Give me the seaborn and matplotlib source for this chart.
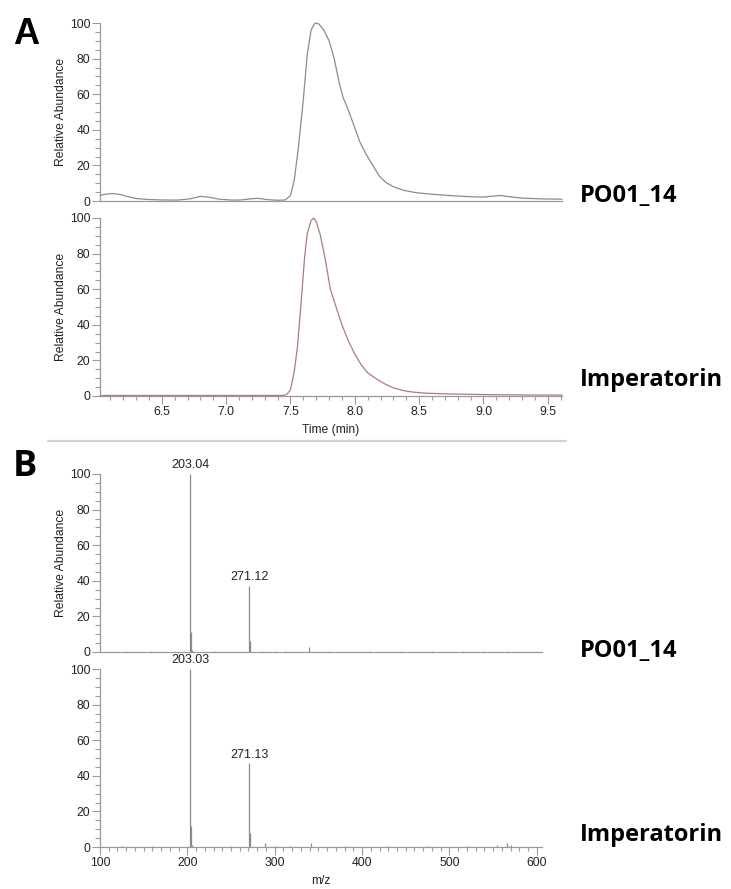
import numpy as np
import pandas as pd
import matplotlib
matplotlib.use("Agg")
import matplotlib.pyplot as plt
import seaborn as sns
from matplotlib.ticker import MultipleLocator

sns.set_theme(style="ticks")
plt.rcParams['font.family'] = ['Liberation Sans', 'DejaVu Sans']

# ---------------- data ----------------
sample_name = "PO01_14"
standard_name = "Imperatorin"

time_sample = [6.02, 6.06, 6.12, 6.18, 6.24, 6.30, 6.38, 6.50, 6.62, 6.72, 6.80, 6.86,
               6.95, 7.05, 7.12, 7.20, 7.25, 7.32, 7.40, 7.46, 7.50, 7.53, 7.56, 7.60,
               7.63, 7.66, 7.69, 7.72, 7.76, 7.80, 7.84, 7.88, 7.91, 7.95, 7.99, 8.04,
               8.09, 8.14, 8.19, 8.24, 8.30, 8.38, 8.48, 8.60, 8.75, 8.90, 9.00, 9.08,
               9.13, 9.20, 9.30, 9.45, 9.61]
abund_sample = [3.2, 3.8, 4.2, 3.6, 2.4, 1.4, 0.9, 0.6, 0.5, 1.2, 2.6, 2.2,
                1.0, 0.5, 0.6, 1.3, 1.5, 0.8, 0.4, 0.6, 3.0, 12, 29, 57,
                82, 96, 100, 99.5, 96, 90, 80, 66, 58, 51, 43, 33,
                26, 20, 14, 10.5, 8, 6, 4.6, 3.8, 3.0, 2.4, 2.2, 2.8,
                3.1, 2.4, 1.6, 1.2, 1.0]

time_std = [6.02, 7.44, 7.47, 7.50, 7.53, 7.555, 7.58, 7.61, 7.63, 7.66, 7.68, 7.70,
            7.73, 7.77, 7.81, 7.85, 7.90, 7.95, 8.00, 8.05, 8.10, 8.17, 8.24, 8.30,
            8.38, 8.45, 8.55, 8.70, 9.00, 9.30, 9.61]
abund_std = [0.3, 0.3, 0.8, 3.4, 14, 28, 50, 78, 91, 98.5, 100, 98,
             91, 77, 60, 51, 40, 31, 23.5, 17.5, 13, 9.5, 6.5, 4.6,
             3.0, 2.2, 1.6, 1.2, 0.8, 0.6, 0.5]

mz_sample = [130, 158, 203.04, 204.04, 205, 230, 271.12, 272.12, 286, 300, 312,
             339.1, 362, 409, 445, 480, 515, 540, 567]
int_sample = [0.3, 0.4, 100, 11.5, 1.0, 0.3, 37, 6, 0.8, 0.4, 0.5,
              3.0, 0.4, 0.5, 0.3, 0.3, 0.4, 0.5, 0.6]

mz_std = [125, 160, 203.03, 204.03, 205, 250, 271.13, 272.13, 289, 300, 318,
          341, 380, 430, 475, 520, 555, 566, 570]
int_std = [0.3, 0.4, 100, 12, 1.2, 0.4, 47, 8, 2.3, 0.6, 0.8,
           2.0, 0.5, 0.6, 0.7, 0.5, 0.9, 2.5, 1.0]

label_mz_sample = [203.04, 271.12]
label_int_sample = [100, 37]
label_text_sample = ["203.04", "271.12"]
label_mz_std = [203.03, 271.13]
label_int_std = [100, 47]
label_text_std = ["203.03", "271.13"]

# ---------------- figure ----------------
W, H = 731, 889
fig = plt.figure(figsize=(W / 100, H / 100), dpi=100)


def fr(x0, x1, y0, y1):
    return [x0 / W, 1 - y1 / H, (x1 - x0) / W, (y1 - y0) / H]


axA1 = fig.add_axes(fr(100, 562, 23, 201))
axA2 = fig.add_axes(fr(100, 562, 218, 396))
axB1 = fig.add_axes(fr(100, 542, 474, 652))
axB2 = fig.add_axes(fr(100, 542, 669, 847))

spine_c = "#9a9a9a"
txt_c = "#222222"
fs = 8.7


def style(ax, show_x):
    for s in ["top", "right"]:
        ax.spines[s].set_visible(False)
    for s in ["left", "bottom"]:
        ax.spines[s].set_color(spine_c)
        ax.spines[s].set_linewidth(0.9)
    ax.set_ylim(0, 100)
    ax.yaxis.set_major_locator(MultipleLocator(20))
    ax.yaxis.set_minor_locator(MultipleLocator(5))
    ax.tick_params(axis="y", which="major", length=6, width=0.8, color=spine_c,
                   labelsize=fs, labelcolor=txt_c, pad=1)
    ax.tick_params(axis="y", which="minor", length=3.5, width=0.8, color=spine_c)
    if show_x:
        ax.tick_params(axis="x", which="major", length=5.5, width=0.8, color=spine_c,
                       labelsize=fs, labelcolor=txt_c, pad=2)
        ax.tick_params(axis="x", which="minor", length=3, width=0.8, color=spine_c)
    else:
        ax.tick_params(axis="x", which="both", length=0, labelbottom=False)
    ax.set_facecolor("white")


# Panel A chromatograms
df_s = pd.DataFrame({"Time (min)": time_sample, "Relative Abundance": abund_sample})
df_t = pd.DataFrame({"Time (min)": time_std, "Relative Abundance": abund_std})
sns.lineplot(data=df_s, x="Time (min)", y="Relative Abundance", ax=axA1,
             color="#8c8c8c", lw=0.9, sort=True)
sns.lineplot(data=df_t, x="Time (min)", y="Relative Abundance", ax=axA2,
             color="#b07a7a", lw=0.9, sort=True)
for ax in (axA1, axA2):
    ax.set_xlim(6.02, 9.61)
    ax.xaxis.set_major_locator(MultipleLocator(0.5))
    ax.xaxis.set_minor_locator(MultipleLocator(0.1))
    for l in ax.lines:
        l.set_clip_on(False)
style(axA1, False)
style(axA2, True)
axA1.set_xlabel("")
axA2.set_xlabel("Time (min)", fontsize=fs, color=txt_c)
axA2.xaxis.set_label_coords(0.5, -28 / 178)
for ax in (axA1, axA2):
    ax.set_ylabel("Relative Abundance", fontsize=fs, color=txt_c)
    ax.yaxis.set_label_coords(-33 / 462, 0.5)

# Panel B spectra
for ax, mz, it in ((axB1, mz_sample, int_sample), (axB2, mz_std, int_std)):
    ax.vlines(mz, 0, it, color="#8a8a8a", lw=0.9)
    ax.set_xlim(100, 606)
    ax.xaxis.set_major_locator(MultipleLocator(100))
    ax.xaxis.set_minor_locator(MultipleLocator(10))
style(axB1, False)
style(axB2, True)
axB1.set_ylabel("Relative Abundance", fontsize=fs, color=txt_c)
axB1.yaxis.set_label_coords(-33 / 442, 0.5)
axB2.set_xlabel("m/z", fontsize=fs, color=txt_c)
axB2.xaxis.set_label_coords(0.5, -28 / 178)

for ax, xs, ys, ts in ((axB1, label_mz_sample, label_int_sample, label_text_sample),
                       (axB2, label_mz_std, label_int_std, label_text_std)):
    for x, y, t in zip(xs, ys, ts):
        ax.annotate(t, (x, y), xytext=(0, 2), textcoords="offset points",
                    ha="center", va="bottom", fontsize=9, color=txt_c,
                    annotation_clip=False)

# separator line
fig.add_artist(plt.Line2D([48 / W, 566 / W], [1 - 441 / H, 1 - 441 / H],
                          color="#d2d2d2", lw=1.6))

# panel letters
fig.text(13 / W, 1 - 44 / H, "A", fontsize=26, fontweight="bold",
         family=["Liberation Sans"], color="black", ha="left", va="baseline")
fig.text(13 / W, 1 - 476 / H, "B", fontsize=26, fontweight="bold",
         family=["Open Sans"], color="black", ha="left", va="baseline")

# sample labels
lab_kw = dict(fontsize=17, fontweight="bold", family=["Open Sans"], color="black",
              ha="left", va="baseline")
fig.text(580 / W, 1 - 202 / H, sample_name, **lab_kw)
fig.text(580 / W, 1 - 386 / H, standard_name, **lab_kw)
fig.text(580 / W, 1 - 657 / H, sample_name, **lab_kw)
fig.text(580 / W, 1 - 841 / H, standard_name, **lab_kw)

fig.savefig("out.png", dpi=100, facecolor="white")
